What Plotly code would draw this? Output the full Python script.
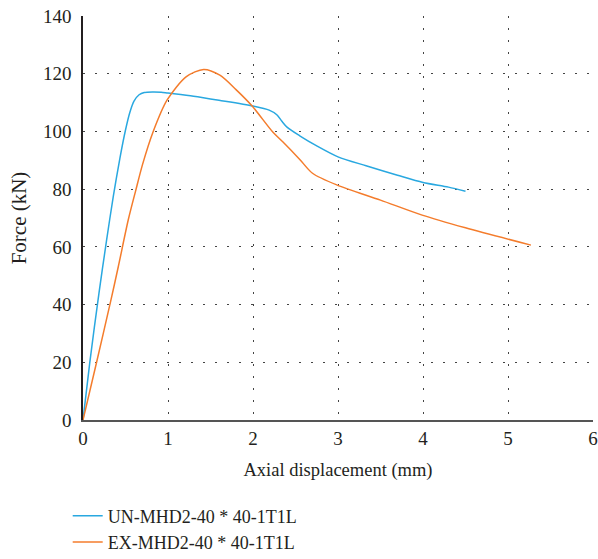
import plotly.graph_objects as go

un_x = [0, 0.08, 0.188, 0.278, 0.356, 0.434, 0.50, 0.55, 0.60, 0.66, 0.72, 0.82, 0.92, 1.0, 1.3, 1.6, 2.0, 2.19, 2.28, 2.34, 2.40, 2.55, 2.75, 3.0, 3.33, 3.7, 4.0, 4.3, 4.5]
un_y = [0, 20, 44, 62.4, 77.4, 90.7, 100.5, 106.5, 110.5, 112.7, 113.5, 113.7, 113.6, 113.3, 112.2, 110.8, 108.8, 107.4, 105.8, 103.5, 101.5, 98.5, 95, 91.2, 88.1, 84.8, 82.3, 80.7, 79.3]

ex_x = [0, 0.16, 0.329, 0.415, 0.532, 0.62, 0.70, 0.825, 0.99, 1.216, 1.42, 1.61, 1.8, 1.99, 2.23, 2.35, 2.55, 2.70, 2.99, 3.5, 3.99, 4.5, 5.27]
ex_y = [0, 20, 41.6, 53.1, 69.3, 79.5, 88.5, 99.9, 110.9, 119, 121.5, 119.5, 114.5, 108.8, 99.9, 96.4, 90.3, 85.5, 81.4, 76.2, 71.0, 66.6, 60.6]

x_ticks = [0, 1, 2, 3, 4, 5, 6]
y_ticks = [0, 20, 40, 60, 80, 100, 120, 140]

FONT = "Liberation Serif"
TXT = "#231f20"

fig = go.Figure()
fig.add_trace(go.Scatter(x=un_x, y=un_y, mode="lines", name="UN-MHD2-40 * 40-1T1L",
                         line=dict(color="#29a8e0", width=1.5, shape="spline", smoothing=0.8)))
fig.add_trace(go.Scatter(x=ex_x, y=ex_y, mode="lines", name="EX-MHD2-40 * 40-1T1L",
                         line=dict(color="#f47c2c", width=1.5, shape="spline", smoothing=0.8)))

fig.update_layout(
    width=598, height=559,
    margin=dict(l=83, r=5, t=16, b=139),
    paper_bgcolor="white", plot_bgcolor="white",
    font=dict(family=FONT, size=18, color=TXT),
    showlegend=True,
    legend=dict(orientation="v", x=-0.03, xanchor="left",
                yref="container", y=0.11, yanchor="top",
                font=dict(family=FONT, size=18, color=TXT),
                bgcolor="rgba(0,0,0,0)", tracegroupgap=0, itemwidth=30),
)
fig.update_xaxes(
    range=[0, 6], tickvals=x_ticks, ticktext=[str(v) for v in x_ticks],
    tickfont=dict(family=FONT, size=19, color=TXT), ticklabeloverflow="allow",
    showline=True, linecolor="#555555", linewidth=2,
    showgrid=True, gridcolor="#444444", gridwidth=1, griddash="1.5px,10.5px",
    zeroline=False, ticks="", automargin=False,
    title=dict(text="Axial displacement (mm)", standoff=15,
               font=dict(family=FONT, size=18.5, color=TXT)),
)
fig.update_yaxes(
    range=[0, 140], tickvals=y_ticks, ticktext=[str(v) for v in y_ticks],
    tickfont=dict(family=FONT, size=19, color=TXT), ticklabeloverflow="allow",
    ticklabelstandoff=6,
    showline=True, linecolor=TXT, linewidth=1.5,
    showgrid=True, gridcolor="#444444", gridwidth=1, griddash="1.5px,10.5px",
    zeroline=False, ticks="", automargin=False,
    title=dict(text="Force (kN)", standoff=11, font=dict(family=FONT, size=21, color=TXT)),
)

post = "document.body.style.margin='0px';"
fig.write_html("out.html", config={"displayModeBar": False}, post_script=post)
